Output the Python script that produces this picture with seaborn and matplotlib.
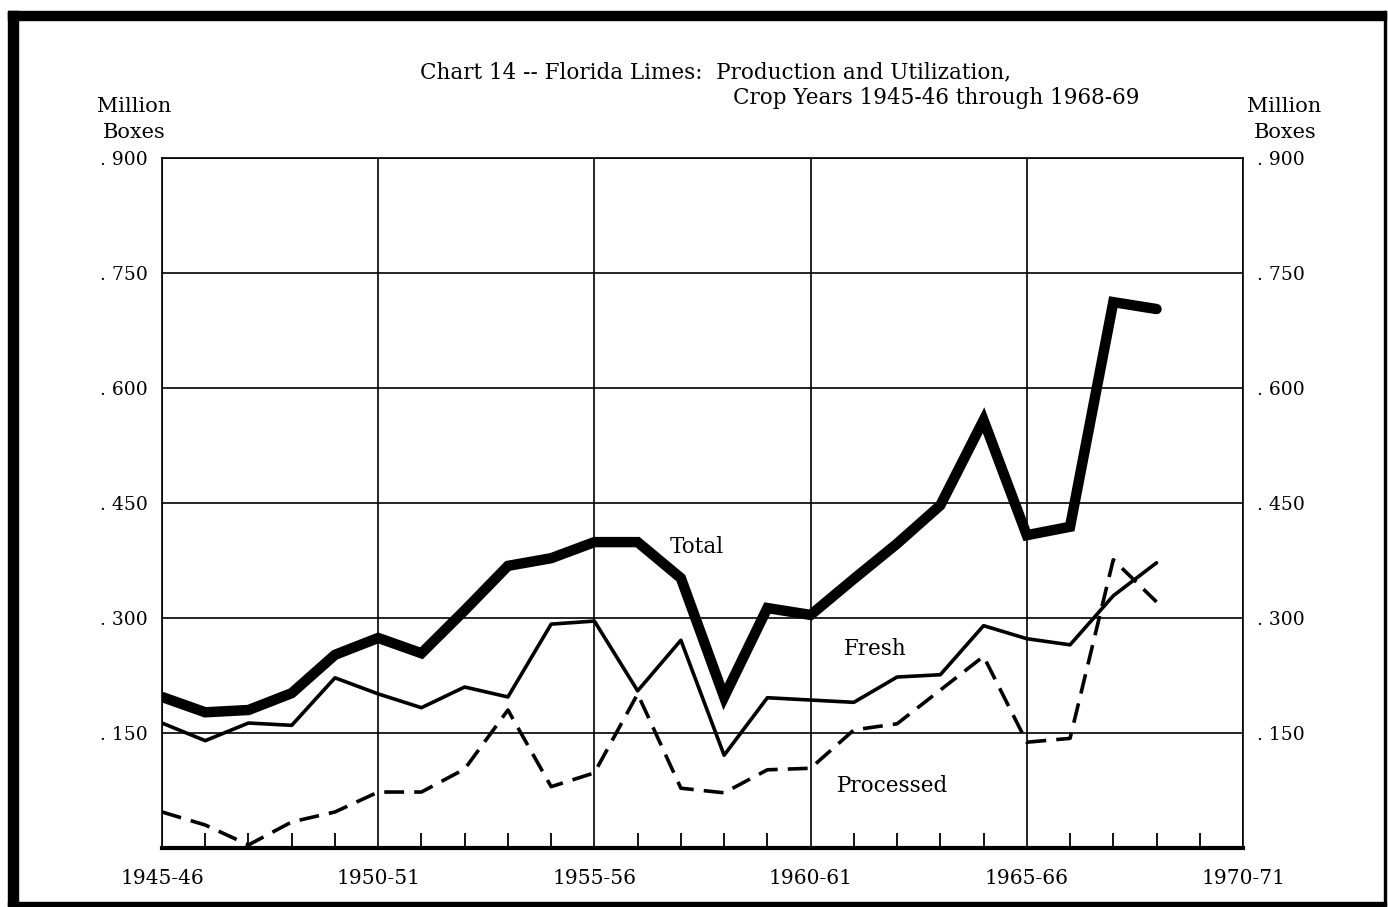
import pandas as pd
import matplotlib.pyplot as plt
import seaborn as sns
from matplotlib.patches import Rectangle

# Florida limes, million boxes, crop years 1945-46 .. 1968-69
years = list(range(24))
total = [0.197, 0.177, 0.180, 0.202, 0.252, 0.274, 0.254, 0.310, 0.368, 0.378,
         0.399, 0.399, 0.352, 0.197, 0.313, 0.304, 0.351, 0.397, 0.447, 0.558,
         0.408, 0.419, 0.712, 0.703]
fresh = [0.163, 0.140, 0.163, 0.160, 0.222, 0.201, 0.183, 0.210, 0.197, 0.292,
         0.296, 0.205, 0.271, 0.121, 0.196, 0.193, 0.190, 0.223, 0.226, 0.290,
         0.273, 0.265, 0.329, 0.372]
processed = [0.047, 0.030, 0.004, 0.034, 0.047, 0.073, 0.073, 0.103, 0.180, 0.080,
             0.098, 0.201, 0.078, 0.072, 0.102, 0.104, 0.154, 0.162, 0.206, 0.250,
             0.138, 0.143, 0.376, 0.321]

x_labels = ["1945-46", "1950-51", "1955-56", "1960-61", "1965-66", "1970-71"]
y_labels = ["", ". 150", ". 300", ". 450", ". 600", ". 750", ". 900"]

df = pd.DataFrame({"year": years, "Total": total, "Fresh": fresh, "Processed": processed})

sns.set_style("white")
plt.rcParams['font.family'] = ['DejaVu Serif']
plt.rcParams['text.color'] = 'black'
plt.rcParams['xtick.color'] = 'black'
plt.rcParams['ytick.color'] = 'black'

fig = plt.figure(figsize=(13.88, 9.07), dpi=100)
ax = fig.add_axes([162 / 1388, 1 - 848 / 907, (1243 - 162) / 1388, (848 - 158) / 907])

sns.lineplot(data=df, x="year", y="Total", ax=ax, color="black", linewidth=7.5,
             solid_joinstyle="miter")
sns.lineplot(data=df, x="year", y="Fresh", ax=ax, color="black", linewidth=2.6)
sns.lineplot(data=df, x="year", y="Processed", ax=ax, color="black", linewidth=2.6,
             dashes=(5.5, 2.8))

ax.set_xlim(0, 25)
ax.set_ylim(0, 0.9)
ax.set_xlabel("")
ax.set_ylabel("")

# grid
ax.set_xticks(range(0, 26, 5))
ax.set_xticklabels(x_labels, fontsize=14.5)
ax.set_xticks(range(0, 26), minor=True)
ax.set_yticks([i * 0.15 for i in range(7)])
ax.set_yticklabels(y_labels, fontsize=13.5)
ax.grid(True, which="major", color="black", linewidth=1.2)
ax.tick_params(axis="x", which="minor", direction="in", length=11, width=1.3, bottom=True)
ax.tick_params(axis="x", which="major", length=0, pad=15)
ax.tick_params(axis="y", length=0, pad=10, labelright=True)

for side in ["left", "right", "top"]:
    ax.spines[side].set_color("black")
    ax.spines[side].set_linewidth(1.2)
ax.spines["bottom"].set_color("black")
ax.spines["bottom"].set_linewidth(3.0)

# series labels
ax.text(12.37, 0.393, "Total", fontsize=15.5, ha="center", va="center")
ax.text(16.5, 0.260, "Fresh", fontsize=15.5, ha="center", va="center")
ax.text(16.9, 0.081, "Processed", fontsize=15.5, ha="center", va="center")

# title and axis headings
fig.text(420 / 1388, 1 - 72 / 907, "Chart 14 -- Florida Limes:  Production and Utilization,",
         fontsize=15.5, va="center")
fig.text(733 / 1388, 1 - 98 / 907, "Crop Years 1945-46 through 1968-69", fontsize=15.5, va="center")
fig.text(134 / 1388, 1 - 106 / 907, "Million", fontsize=15, ha="center", va="center")
fig.text(134 / 1388, 1 - 133 / 907, "Boxes", fontsize=15, ha="center", va="center")
fig.text(1284 / 1388, 1 - 106 / 907, "Million", fontsize=15, ha="center", va="center")
fig.text(1285 / 1388, 1 - 133 / 907, "Boxes", fontsize=15, ha="center", va="center")

# page frame
fig.add_artist(Rectangle((8 / 1388, 1 - 906 / 907), 10 / 1388, (906 - 11) / 907,
                         transform=fig.transFigure, color="black"))
fig.add_artist(Rectangle((8 / 1388, 1 - 20 / 907), (1386 - 8) / 1388, 9 / 907,
                         transform=fig.transFigure, color="black"))
fig.add_artist(Rectangle((8 / 1388, 1 - 906 / 907), (1386 - 8) / 1388, 4 / 907,
                         transform=fig.transFigure, color="black"))
fig.add_artist(Rectangle((1384 / 1388, 1 - 906 / 907), 2 / 1388, (906 - 11) / 907,
                         transform=fig.transFigure, color="black"))

fig.savefig("out.png", dpi=100)
